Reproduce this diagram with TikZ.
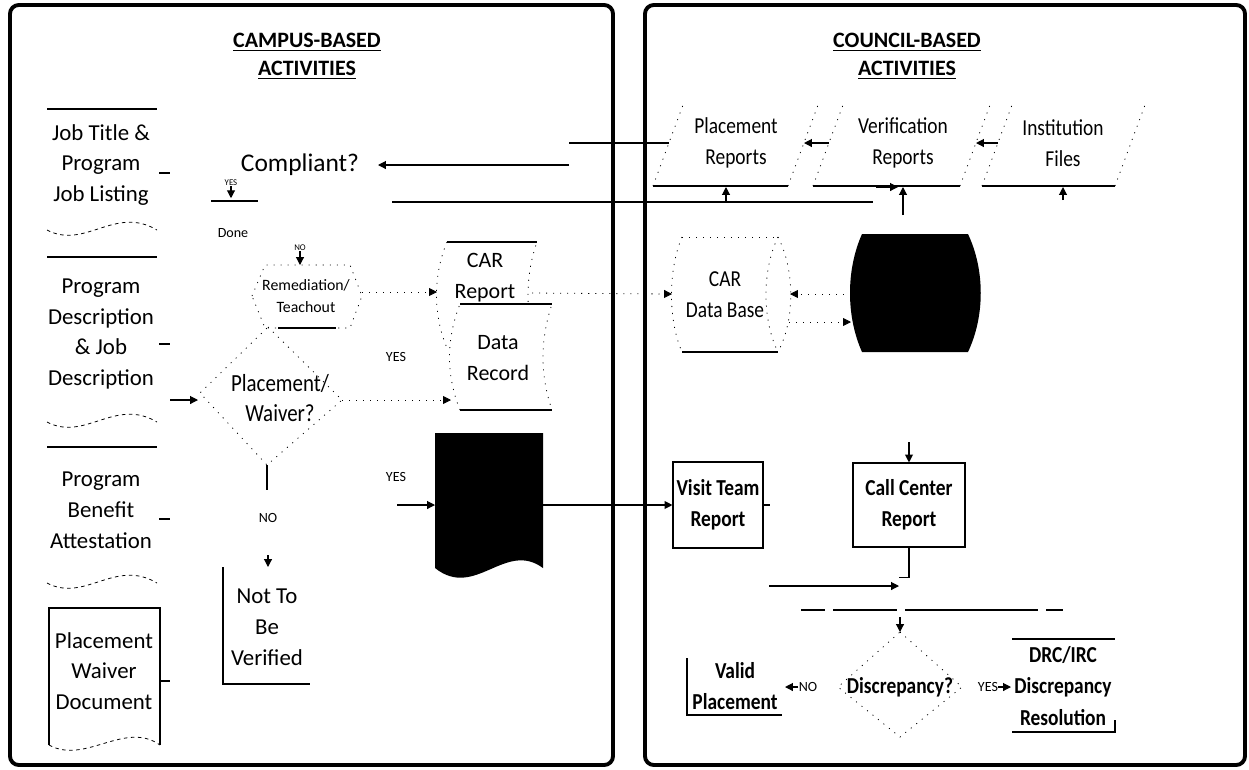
\documentclass[tikz,border=0pt]{standalone}
\usepackage{fontspec}
\setmainfont{Carlito}
\newfontfamily\narrowfont[FakeStretch=0.85]{Carlito}
\usetikzlibrary{arrows.meta}

\tikzset{
  lbl/.style={align=center,inner sep=0pt,font=\fontsize{13}{17.5}\selectfont},
  nlbl/.style={lbl,font=\narrowfont\fontsize{13}{17.5}\selectfont},
  nbold/.style={lbl,font=\narrowfont\bfseries\fontsize{13}{17.5}\selectfont},
  ttl/.style={lbl,font=\bfseries\fontsize{12.5}{16}\selectfont},
  tag/.style={inner sep=0pt,font=\fontsize{8}{9}\selectfont},
  ln/.style={line width=0.65pt},
  faint/.style={line width=0.45pt,dash pattern=on 0.6pt off 3.4pt},
  broken/.style={line width=0.45pt,dash pattern=on 2pt off 2pt},
  conn/.style={ln,-{Triangle[length=4.5pt,width=4.5pt]}},
  panel/.style={line width=2.2pt,rounded corners=5pt},
  box/.style={draw,ln,align=center,inner sep=0pt,font=\narrowfont\bfseries\fontsize{13}{17.5}\selectfont},
}

\begin{document}
\begin{tikzpicture}[x=0.02cm,y=-0.02cm]
  \useasboundingbox (0,0) rectangle (1249,769);
  \draw[panel] (10,5) rectangle (613,765);
  \draw[panel] (645,5) rectangle (1245,765);
  \node[ttl] (campus) at (307,56) {\underline{CAMPUS-BASED}\\\underline{ACTIVITIES}};
  \node[ttl] (council) at (907,56) {\underline{COUNCIL-BASED}\\\underline{ACTIVITIES}};

  % campus documents
  \foreach \t/\w in {109/230, 257/422, 447/583} {
    \draw[ln] (47,\t) -- (157,\t);
    \draw[broken] (47,\w) .. controls (85,\w+20) and (115,\w-25) .. (157,\w);
  }
  \draw[ln] (49,745) -- (49,608) -- (160,608) -- (160,745);
  \draw[broken] (49,745) .. controls (85,765) and (125,720) .. (160,745);
  \node[lbl] (joblist) at (101,165) {Job Title \&\\Program\\Job Listing};
  \node[lbl] (progdesc) at (101,334) {Program\\Description\\\& Job\\Description};
  \node[lbl] (benefit) at (101,510) {Program\\Benefit\\Attestation};
  \node[lbl] (waiverdoc) at (104,671) {Placement\\Waiver\\Document};
  \foreach \y in {173,344,519,681} \draw[ln] (159,\y) -- (170,\y);

  % campus decisions
  \node[lbl,font=\fontsize{14.5}{17.5}\selectfont] (compliant) at (300,165) {Compliant?};
  \coordinate (cp e) at (378,165);
  \node[tag,font=\fontsize{5}{6}\selectfont] (yes1) at (231,183) {YES};
  \draw[ln] (211,201) -- (258,201);
  \draw[conn] (yes1.south) -- ++(0,12);
  \node[tag] (done) at (233,233) {Done};
  \node[tag,font=\fontsize{5}{6}\selectfont] (no1) at (300,248) {NO};

  \coordinate (rm n) at (300,265);
  \coordinate (rm e) at (362,292);
  \draw[faint] (252,296) -- (265,265) -- (350,265) -- (362,296) -- (350,328) -- (265,328) -- cycle;
  \draw[ln] (278,328) -- (336,328);
  \node[lbl,font=\fontsize{9}{13}\selectfont] (remed) at (306,296) {Remediation/\\Teachout};
  \draw[conn] (no1.south) -- (rm n);

  \coordinate (pw n) at (268,327);
  \coordinate (pw e) at (342,400);
  \coordinate (pw s) at (267,465);
  \coordinate (pw w) at (198,400);
  \draw[faint] (pw n) -- (pw e) -- (pw s) -- (200,393) -- cycle;
  \node[nlbl,font=\narrowfont\fontsize{14}{17.5}\selectfont] (plcwaiver) at (280,398) {Placement/\\Waiver?};
  \draw[conn] (170,400) -- (pw w);
  \draw[ln] (pw s) -- ++(0,25);
  \node[tag] (no2) at (268,518) {NO};
  \coordinate (nv n) at (268,567);
  \draw[ln] (223,567) -- (223,684) -- (310,684);
  \node[lbl] (notver) at (267,627) {Not To\\Be\\Verified};
  \draw[conn] (268,555) -- (nv n);
  \node[tag] (yes2) at (396,357) {YES};
  \node[tag] (yes3) at (396,477) {YES};

  % car report and data record
  \draw[faint,fill=white] (447,242) .. controls (433,275) and (433,315) .. (447,348) -- (537,348) .. controls (525,315) and (525,275) .. (537,242);
  \draw[ln] (447,242) -- (537,242);
  \draw[faint,fill=white] (460,410) .. controls (446,375) and (446,340) .. (460,304) -- (552,304) .. controls (540,340) and (540,375) .. (552,410);
  \draw[ln] (460,304) -- (552,304);
  \draw[ln] (460,410) -- (552,410);
  \node[lbl,font=\fontsize{12.5}{17.5}\selectfont] (carrep) at (485,278) {CAR\\Report};
  \node[lbl,font=\fontsize{12.5}{17.5}\selectfont] (datarec) at (498,358) {Data\\Record};
  \coordinate (car w) at (437,292);
  \coordinate (car e) at (532,293);
  \draw[conn,faint] (rm e) -- (car w);
  \draw[conn,faint] (pw e) -- (451,400);

  \fill (435,433) -- (543,433) -- (543,568) .. controls (505,540) and (475,600) .. (435,568) -- cycle;
  \coordinate (blk w) at (435,505);
  \coordinate (blk e) at (543,505);
  \draw[conn] (397,505) -- (blk w);

  % council reports
  \foreach \x/\w in {653/135, 813/147, 982/133} {
    \draw[faint] (\x,186) -- (\x+30,105);
    \draw[faint] (\x+\w,186) -- (\x+\w+30,105);
    \draw[ln] (\x,186) -- (\x+\w,186);
  }
  \node[nlbl] (placerep) at (736,143) {Placement\\Reports};
  \node[nlbl] (verirep) at (903,143) {Verification\\Reports};
  \node[nlbl] (instfile) at (1063,143) {Institution\\Files};
  \coordinate (pr w) at (669,143);
  \coordinate (pr e) at (804,143);
  \coordinate (vr w) at (829,143);
  \coordinate (vr e) at (976,143);
  \coordinate (if w) at (998,143);
  \draw[conn] (if w) -- (vr e);
  \draw[conn] (vr w) -- (pr e);
  \draw[ln] (pr w) -- (569,143);
  \draw[conn] (569,165) -- (cp e);
  \draw[ln] (392,202) -- (873,202);
  \draw[conn] (726,202) -- (726,187);
  \draw[conn] (876,187) -- (898,187);
  \draw[conn] (903,215) -- (903,187);
  \draw[conn] (1063,200) -- (1063,187);

  % car data base and storage
  \draw[faint] (682,237) -- (778,237);
  \draw[faint] (682,237) .. controls (668,270) and (668,320) .. (682,352);
  \draw[faint] (778,237) .. controls (795,270) and (795,320) .. (778,352);
  \draw[faint] (778,237) .. controls (762,270) and (762,320) .. (778,352);
  \draw[ln] (682,352) -- (778,352);
  \node[nlbl] (cardb) at (725,295) {CAR\\Data Base};
  \coordinate (db w) at (672,294);
  \coordinate (db e) at (790,294);
  \fill (862,234) -- (968,234) .. controls (985,270) and (985,316) .. (968,352) -- (862,352) .. controls (846,316) and (846,270) .. (862,234) -- cycle;
  \coordinate (st w) at (851,294);
  \draw[conn,faint] (car e) -- (db w);
  \draw[conn,faint] (st w) -- (db e);
  \draw[conn,faint] (789,322) -- (851,322);

  % visits and calls
  \node[box,minimum width=1.8cm,minimum height=1.72cm] (visit) at (718,505) {Visit Team\\Report};
  \node[box,minimum width=2.24cm,minimum height=1.68cm] (callctr) at (909,505) {Call Center\\Report};
  \draw[conn] (blk e) -- (visit.west);
  \draw[ln] (visit.east) -- ++(6,0);
  \draw[conn] (909,442) -- (callctr.north);
  \draw[ln] (callctr.south) -- ++(0,30) -- ++(-10,0);
  \draw[conn] (769,586) -- (899,586);
  \draw[ln] (801,610) -- (825,610) (833,610) -- (897,610) (905,610) -- (1038,610) (1046,610) -- (1063,610);

  % discrepancy
  \coordinate (dc n) at (900,632);
  \draw[faint] (dc n) -- (962,687) -- (900,737) -- (838,687) -- cycle;
  \draw[conn] (900,617) -- (dc n);
  \node[nbold] (disc) at (900,687) {Discrepancy?};
  \node[tag] (no3) at (808,687) {NO};
  \node[tag] (yes4) at (988,687) {YES};
  \draw[conn] (no3.west) -- (785,687);
  \draw[conn] (yes4.east) -- (1011,687);
  \node[nbold] (valid) at (735,686) {Valid\\Placement};
  \draw[ln] (687,658) -- (687,715) -- (782,715);
  \node[nbold,font=\narrowfont\bfseries\fontsize{13}{18}\selectfont] (drc) at (1063,686) {DRC/IRC\\Discrepancy\\Resolution};
  \draw[ln] (1012,639) -- (1115,639);
  \draw[ln] (1012,732) -- (1115,732) -- (1115,720);
\end{tikzpicture}
\end{document}
